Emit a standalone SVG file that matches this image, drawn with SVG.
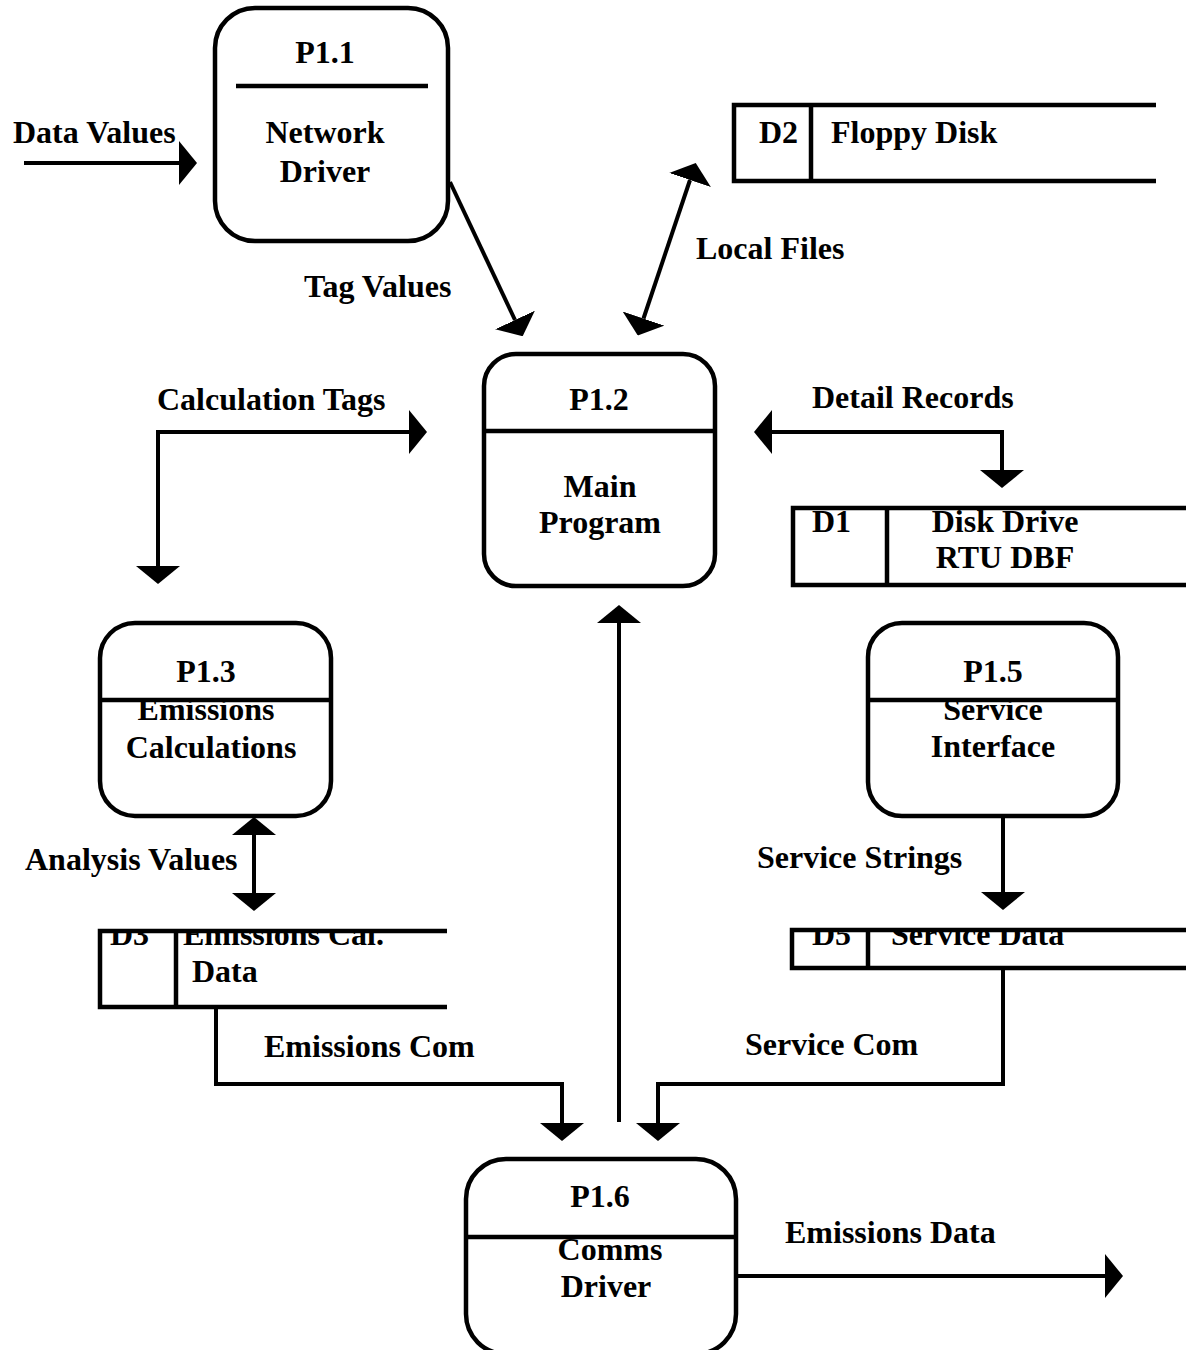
<svg xmlns="http://www.w3.org/2000/svg" width="1186" height="1350" viewBox="0 0 1186 1350">
<style>
  .box { fill: none; stroke: #000; stroke-width: 4.5; }
  .div { stroke: #000; stroke-width: 4.5; fill: none; }
  .store { fill: none; stroke: #000; stroke-width: 4.5; }
  .flow { fill: none; stroke: #000; stroke-width: 4; }
  text { font-family: "Liberation Serif", "Times New Roman", serif; font-weight: bold; font-size: 32px; fill: #000; }
  .m { text-anchor: middle; }
</style>
<defs>
  <marker id="ah" viewBox="0 0 18 44" refX="0" refY="22" markerWidth="18" markerHeight="44" markerUnits="userSpaceOnUse" orient="auto-start-reverse">
    <path d="M0,0 L18,22 L0,44 Z" fill="#000"/>
  </marker>
  <clipPath id="clipD3"><rect x="100" y="931" width="347" height="76"/></clipPath>
  <clipPath id="clipD5"><rect x="792" y="930" width="394" height="38"/></clipPath>
</defs>
<rect width="1186" height="1350" fill="#fff"/>

<g id="P1.1">
  <rect class="box" x="215" y="8" width="233" height="233" rx="40" ry="40"/>
  <text class="m" x="325" y="63">P1.1</text>
  <text class="m" x="325" y="143">Network</text>
  <text class="m" x="325" y="182">Driver</text>
  <line class="div" x1="236" y1="86" x2="428" y2="86"/>
</g>

<g id="P1.2">
  <rect class="box" x="484" y="354" width="231" height="232" rx="32" ry="32"/>
  <text class="m" x="599" y="410">P1.2</text>
  <text class="m" x="600" y="497">Main</text>
  <text class="m" x="600" y="533">Program</text>
  <line class="div" x1="484" y1="431" x2="715" y2="431"/>
</g>

<g id="P1.3">
  <rect class="box" x="100" y="623" width="231" height="193" rx="35" ry="35"/>
  <text class="m" x="206" y="682">P1.3</text>
  <text class="m" x="206" y="720">Emissions</text>
  <text class="m" x="211" y="758">Calculations</text>
  <line class="div" x1="100" y1="700" x2="331" y2="700"/>
</g>

<g id="P1.5">
  <rect class="box" x="868" y="623" width="250" height="193" rx="34" ry="34"/>
  <text class="m" x="993" y="682">P1.5</text>
  <text class="m" x="993" y="720">Service</text>
  <text class="m" x="993" y="757">Interface</text>
  <line class="div" x1="868" y1="700" x2="1118" y2="700"/>
</g>

<g id="P1.6">
  <rect class="box" x="466" y="1159" width="270" height="195" rx="40" ry="40"/>
  <text class="m" x="600" y="1207">P1.6</text>
  <text class="m" x="610" y="1260">Comms</text>
  <text class="m" x="606" y="1297">Driver</text>
  <line class="div" x1="466" y1="1237" x2="736" y2="1237"/>
</g>

<g id="D2">
  <path class="store" d="M1156,105 H734 V181 H1156"/>
  <line class="div" x1="811" y1="105" x2="811" y2="181"/>
  <text x="759" y="143">D2</text>
  <text x="831" y="143">Floppy Disk</text>
</g>

<g id="D1">
  <path class="store" d="M1186,508 H793 V585 H1186"/>
  <line class="div" x1="887" y1="508" x2="887" y2="585"/>
  <text x="812" y="532">D1</text>
  <text class="m" x="1005" y="532">Disk Drive</text>
  <text class="m" x="1005" y="568">RTU DBF</text>
</g>

<g id="D3">
  <g clip-path="url(#clipD3)">
    <text x="110" y="945">D3</text>
    <text x="183" y="945">Emissions Cal.</text>
  </g>
  <text x="192" y="982">Data</text>
  <path class="store" d="M447,931 H100 V1007 H447"/>
  <line class="div" x1="176" y1="931" x2="176" y2="1007"/>
</g>

<g id="D5">
  <g clip-path="url(#clipD5)">
    <text x="812" y="945">D5</text>
    <text x="891" y="945">Service Data</text>
  </g>
  <path class="store" d="M1186,930 H792 V968 H1186"/>
  <line class="div" x1="868" y1="930" x2="868" y2="968"/>
</g>

<g id="connectors">
  <path class="flow" d="M24,163 H179" marker-end="url(#ah)"/>
  <path class="flow" d="M450,182 L515,320" marker-end="url(#ah)"/>
  <path class="flow" d="M643.5,318.5 L690,180" marker-start="url(#ah)" marker-end="url(#ah)"/>
  <path class="flow" d="M158,566 V432 H409" marker-start="url(#ah)" marker-end="url(#ah)"/>
  <path class="flow" d="M772,432 H1002 V470" marker-start="url(#ah)" marker-end="url(#ah)"/>
  <path class="flow" d="M254,835 V893" marker-start="url(#ah)" marker-end="url(#ah)"/>
  <path class="flow" d="M1003,817 V892" marker-end="url(#ah)"/>
  <path class="flow" d="M216,1007 V1084 H562 V1123" marker-end="url(#ah)"/>
  <path class="flow" d="M1003,968 V1084 H658 V1123" marker-end="url(#ah)"/>
  <path class="flow" d="M619,1122 V623" marker-end="url(#ah)"/>
  <path class="flow" d="M737,1276 H1105" marker-end="url(#ah)"/>
</g>

<g id="labels">
  <text x="13" y="143">Data Values</text>
  <text x="304" y="297">Tag Values</text>
  <text x="696" y="259">Local Files</text>
  <text x="157" y="410">Calculation Tags</text>
  <text x="812" y="408">Detail Records</text>
  <text x="25" y="870">Analysis Values</text>
  <text x="757" y="868">Service Strings</text>
  <text x="264" y="1057">Emissions Com</text>
  <text x="745" y="1055">Service Com</text>
  <text x="785" y="1243">Emissions Data</text>
</g>
</svg>
